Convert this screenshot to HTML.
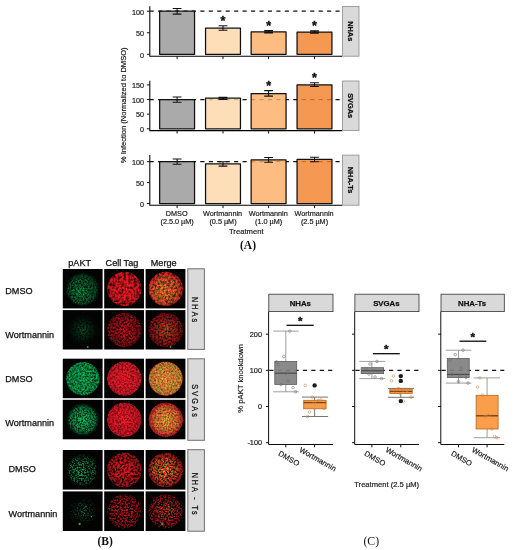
<!DOCTYPE html>
<html><head><meta charset="utf-8"><title>Figure</title>
<style>html,body{margin:0;padding:0;background:#fff;}svg{display:block;}text{font-family:"Liberation Sans", Arial, sans-serif;fill:#111;stroke:#111;stroke-width:0.18px;}.tk{font-size:7.2px;fill:#1c1c1c;}.ax{stroke:#000;stroke-width:1.05;fill:none;}.ser{font-family:"Liberation Serif", "Times New Roman", serif;font-weight:bold;font-size:11.5px;fill:#111;stroke:none;}.st{font-weight:bold;font-size:7px;fill:#111;stroke:#111;stroke-width:0.25px;}.rl{font-size:9.1px;fill:#111;stroke-width:0.25px;}</style></head><body>
<svg width="514" height="550" viewBox="0 0 514 550">
<rect x="0" y="0" width="514" height="550" fill="#ffffff"/>
<defs>
<filter id="f1" x="-5%" y="-5%" width="110%" height="110%" color-interpolation-filters="sRGB"><feTurbulence type="fractalNoise" baseFrequency="0.6" numOctaves="2" seed="1" result="n"/><feColorMatrix in="n" type="matrix" values="2.0 0 0 0 -0.4432  2.0 0 0 0 -0.4432  2.0 0 0 0 -0.4432  0 0 0 0 1" result="g"/><feComposite in="SourceGraphic" in2="g" operator="arithmetic" k1="1" k2="0" k3="0" k4="0" result="m"/><feGaussianBlur in="m" stdDeviation="0.45" result="mb"/><feComposite in="mb" in2="SourceGraphic" operator="in"/></filter>
<filter id="f2" x="-5%" y="-5%" width="110%" height="110%" color-interpolation-filters="sRGB"><feTurbulence type="fractalNoise" baseFrequency="0.38" numOctaves="2" seed="4" result="n"/><feColorMatrix in="n" type="matrix" values="2.2 0 0 0 -0.3694  2.2 0 0 0 -0.3694  2.2 0 0 0 -0.3694  0 0 0 0 1" result="g"/><feComposite in="SourceGraphic" in2="g" operator="arithmetic" k1="1" k2="0" k3="0" k4="0" result="m"/><feGaussianBlur in="m" stdDeviation="0.45" result="mb"/><feComposite in="mb" in2="SourceGraphic" operator="in"/></filter>
<filter id="f3" x="-5%" y="-5%" width="110%" height="110%" color-interpolation-filters="sRGB"><feTurbulence type="fractalNoise" baseFrequency="0.38" numOctaves="2" seed="4" result="n"/><feColorMatrix in="n" type="matrix" values="2.2 0 0 0 -0.3694  2.2 0 0 0 -0.3694  2.2 0 0 0 -0.3694  0 0 0 0 1" result="g"/><feComposite in="SourceGraphic" in2="g" operator="arithmetic" k1="1" k2="0" k3="0" k4="0" result="m"/><feGaussianBlur in="m" stdDeviation="0.45" result="mb"/><feComposite in="mb" in2="SourceGraphic" operator="in"/></filter>
<filter id="f4" x="-5%" y="-5%" width="110%" height="110%" color-interpolation-filters="sRGB"><feTurbulence type="fractalNoise" baseFrequency="0.6" numOctaves="2" seed="1" result="n"/><feColorMatrix in="n" type="matrix" values="2.0 0 0 0 -0.4432  2.0 0 0 0 -0.4432  2.0 0 0 0 -0.4432  0 0 0 0 1" result="g"/><feComposite in="SourceGraphic" in2="g" operator="arithmetic" k1="1" k2="0" k3="0" k4="0" result="m"/><feGaussianBlur in="m" stdDeviation="0.45" result="mb"/><feComposite in="mb" in2="SourceGraphic" operator="in"/></filter>
<filter id="f5" x="-5%" y="-5%" width="110%" height="110%" color-interpolation-filters="sRGB"><feTurbulence type="fractalNoise" baseFrequency="0.6" numOctaves="2" seed="8" result="n"/><feColorMatrix in="n" type="matrix" values="2.2 0 0 0 -0.487  2.2 0 0 0 -0.487  2.2 0 0 0 -0.487  0 0 0 0 1" result="g"/><feComposite in="SourceGraphic" in2="g" operator="arithmetic" k1="1" k2="0" k3="0" k4="0" result="m"/><feGaussianBlur in="m" stdDeviation="0.45" result="mb"/><feComposite in="mb" in2="SourceGraphic" operator="in"/></filter>
<filter id="f6" x="-5%" y="-5%" width="110%" height="110%" color-interpolation-filters="sRGB"><feTurbulence type="fractalNoise" baseFrequency="0.55" numOctaves="2" seed="11" result="n"/><feColorMatrix in="n" type="matrix" values="2.2 0 0 0 -0.4751  2.2 0 0 0 -0.4751  2.2 0 0 0 -0.4751  0 0 0 0 1" result="g"/><feComposite in="SourceGraphic" in2="g" operator="arithmetic" k1="1" k2="0" k3="0" k4="0" result="m"/><feGaussianBlur in="m" stdDeviation="0.45" result="mb"/><feComposite in="mb" in2="SourceGraphic" operator="in"/></filter>
<filter id="f7" x="-5%" y="-5%" width="110%" height="110%" color-interpolation-filters="sRGB"><feTurbulence type="fractalNoise" baseFrequency="0.55" numOctaves="2" seed="11" result="n"/><feColorMatrix in="n" type="matrix" values="2.2 0 0 0 -0.4751  2.2 0 0 0 -0.4751  2.2 0 0 0 -0.4751  0 0 0 0 1" result="g"/><feComposite in="SourceGraphic" in2="g" operator="arithmetic" k1="1" k2="0" k3="0" k4="0" result="m"/><feGaussianBlur in="m" stdDeviation="0.45" result="mb"/><feComposite in="mb" in2="SourceGraphic" operator="in"/></filter>
<filter id="f8" x="-5%" y="-5%" width="110%" height="110%" color-interpolation-filters="sRGB"><feTurbulence type="fractalNoise" baseFrequency="0.6" numOctaves="2" seed="8" result="n"/><feColorMatrix in="n" type="matrix" values="2.2 0 0 0 -0.487  2.2 0 0 0 -0.487  2.2 0 0 0 -0.487  0 0 0 0 1" result="g"/><feComposite in="SourceGraphic" in2="g" operator="arithmetic" k1="1" k2="0" k3="0" k4="0" result="m"/><feGaussianBlur in="m" stdDeviation="0.45" result="mb"/><feComposite in="mb" in2="SourceGraphic" operator="in"/></filter>
<filter id="f9" x="-5%" y="-5%" width="110%" height="110%" color-interpolation-filters="sRGB"><feTurbulence type="fractalNoise" baseFrequency="0.55" numOctaves="2" seed="21" result="n"/><feColorMatrix in="n" type="matrix" values="1.5 0 0 0 -0.1421  1.5 0 0 0 -0.1421  1.5 0 0 0 -0.1421  0 0 0 0 1" result="g"/><feComposite in="SourceGraphic" in2="g" operator="arithmetic" k1="1" k2="0" k3="0" k4="0" result="m"/><feGaussianBlur in="m" stdDeviation="0.45" result="mb"/><feComposite in="mb" in2="SourceGraphic" operator="in"/></filter>
<filter id="f10" x="-5%" y="-5%" width="110%" height="110%" color-interpolation-filters="sRGB"><feTurbulence type="fractalNoise" baseFrequency="0.55" numOctaves="2" seed="24" result="n"/><feColorMatrix in="n" type="matrix" values="1.3 0 0 0 0.1581  1.3 0 0 0 0.1581  1.3 0 0 0 0.1581  0 0 0 0 1" result="g"/><feComposite in="SourceGraphic" in2="g" operator="arithmetic" k1="1" k2="0" k3="0" k4="0" result="m"/><feGaussianBlur in="m" stdDeviation="0.45" result="mb"/><feComposite in="mb" in2="SourceGraphic" operator="in"/></filter>
<filter id="f11" x="-5%" y="-5%" width="110%" height="110%" color-interpolation-filters="sRGB"><feTurbulence type="fractalNoise" baseFrequency="0.55" numOctaves="2" seed="24" result="n"/><feColorMatrix in="n" type="matrix" values="1.3 0 0 0 0.1581  1.3 0 0 0 0.1581  1.3 0 0 0 0.1581  0 0 0 0 1" result="g"/><feComposite in="SourceGraphic" in2="g" operator="arithmetic" k1="1" k2="0" k3="0" k4="0" result="m"/><feGaussianBlur in="m" stdDeviation="0.45" result="mb"/><feComposite in="mb" in2="SourceGraphic" operator="in"/></filter>
<filter id="f12" x="-5%" y="-5%" width="110%" height="110%" color-interpolation-filters="sRGB"><feTurbulence type="fractalNoise" baseFrequency="0.55" numOctaves="2" seed="21" result="n"/><feColorMatrix in="n" type="matrix" values="1.5 0 0 0 -0.1421  1.5 0 0 0 -0.1421  1.5 0 0 0 -0.1421  0 0 0 0 1" result="g"/><feComposite in="SourceGraphic" in2="g" operator="arithmetic" k1="1" k2="0" k3="0" k4="0" result="m"/><feGaussianBlur in="m" stdDeviation="0.45" result="mb"/><feComposite in="mb" in2="SourceGraphic" operator="in"/></filter>
<filter id="f13" x="-5%" y="-5%" width="110%" height="110%" color-interpolation-filters="sRGB"><feTurbulence type="fractalNoise" baseFrequency="0.6" numOctaves="2" seed="28" result="n"/><feColorMatrix in="n" type="matrix" values="2.0 0 0 0 -0.3534  2.0 0 0 0 -0.3534  2.0 0 0 0 -0.3534  0 0 0 0 1" result="g"/><feComposite in="SourceGraphic" in2="g" operator="arithmetic" k1="1" k2="0" k3="0" k4="0" result="m"/><feGaussianBlur in="m" stdDeviation="0.45" result="mb"/><feComposite in="mb" in2="SourceGraphic" operator="in"/></filter>
<filter id="f14" x="-5%" y="-5%" width="110%" height="110%" color-interpolation-filters="sRGB"><feTurbulence type="fractalNoise" baseFrequency="0.55" numOctaves="2" seed="31" result="n"/><feColorMatrix in="n" type="matrix" values="1.3 0 0 0 0.1404  1.3 0 0 0 0.1404  1.3 0 0 0 0.1404  0 0 0 0 1" result="g"/><feComposite in="SourceGraphic" in2="g" operator="arithmetic" k1="1" k2="0" k3="0" k4="0" result="m"/><feGaussianBlur in="m" stdDeviation="0.45" result="mb"/><feComposite in="mb" in2="SourceGraphic" operator="in"/></filter>
<filter id="f15" x="-5%" y="-5%" width="110%" height="110%" color-interpolation-filters="sRGB"><feTurbulence type="fractalNoise" baseFrequency="0.55" numOctaves="2" seed="31" result="n"/><feColorMatrix in="n" type="matrix" values="1.3 0 0 0 0.1404  1.3 0 0 0 0.1404  1.3 0 0 0 0.1404  0 0 0 0 1" result="g"/><feComposite in="SourceGraphic" in2="g" operator="arithmetic" k1="1" k2="0" k3="0" k4="0" result="m"/><feGaussianBlur in="m" stdDeviation="0.45" result="mb"/><feComposite in="mb" in2="SourceGraphic" operator="in"/></filter>
<filter id="f16" x="-5%" y="-5%" width="110%" height="110%" color-interpolation-filters="sRGB"><feTurbulence type="fractalNoise" baseFrequency="0.6" numOctaves="2" seed="28" result="n"/><feColorMatrix in="n" type="matrix" values="2.0 0 0 0 -0.3534  2.0 0 0 0 -0.3534  2.0 0 0 0 -0.3534  0 0 0 0 1" result="g"/><feComposite in="SourceGraphic" in2="g" operator="arithmetic" k1="1" k2="0" k3="0" k4="0" result="m"/><feGaussianBlur in="m" stdDeviation="0.45" result="mb"/><feComposite in="mb" in2="SourceGraphic" operator="in"/></filter>
<filter id="f17" x="-5%" y="-5%" width="110%" height="110%" color-interpolation-filters="sRGB"><feTurbulence type="fractalNoise" baseFrequency="0.65" numOctaves="2" seed="41" result="n"/><feColorMatrix in="n" type="matrix" values="3.8 0 0 0 -1.5639  3.8 0 0 0 -1.5639  3.8 0 0 0 -1.5639  0 0 0 0 1" result="g"/><feComposite in="SourceGraphic" in2="g" operator="arithmetic" k1="1" k2="0" k3="0" k4="0" result="m"/><feGaussianBlur in="m" stdDeviation="0.45" result="mb"/><feComposite in="mb" in2="SourceGraphic" operator="in"/></filter>
<filter id="f18" x="-5%" y="-5%" width="110%" height="110%" color-interpolation-filters="sRGB"><feTurbulence type="fractalNoise" baseFrequency="0.45" numOctaves="2" seed="44" result="n"/><feColorMatrix in="n" type="matrix" values="3.0 0 0 0 -0.8202  3.0 0 0 0 -0.8202  3.0 0 0 0 -0.8202  0 0 0 0 1" result="g"/><feComposite in="SourceGraphic" in2="g" operator="arithmetic" k1="1" k2="0" k3="0" k4="0" result="m"/><feGaussianBlur in="m" stdDeviation="0.45" result="mb"/><feComposite in="mb" in2="SourceGraphic" operator="in"/></filter>
<filter id="f19" x="-5%" y="-5%" width="110%" height="110%" color-interpolation-filters="sRGB"><feTurbulence type="fractalNoise" baseFrequency="0.45" numOctaves="2" seed="44" result="n"/><feColorMatrix in="n" type="matrix" values="3.0 0 0 0 -0.8202  3.0 0 0 0 -0.8202  3.0 0 0 0 -0.8202  0 0 0 0 1" result="g"/><feComposite in="SourceGraphic" in2="g" operator="arithmetic" k1="1" k2="0" k3="0" k4="0" result="m"/><feGaussianBlur in="m" stdDeviation="0.45" result="mb"/><feComposite in="mb" in2="SourceGraphic" operator="in"/></filter>
<filter id="f20" x="-5%" y="-5%" width="110%" height="110%" color-interpolation-filters="sRGB"><feTurbulence type="fractalNoise" baseFrequency="0.65" numOctaves="2" seed="41" result="n"/><feColorMatrix in="n" type="matrix" values="3.8 0 0 0 -1.5639  3.8 0 0 0 -1.5639  3.8 0 0 0 -1.5639  0 0 0 0 1" result="g"/><feComposite in="SourceGraphic" in2="g" operator="arithmetic" k1="1" k2="0" k3="0" k4="0" result="m"/><feGaussianBlur in="m" stdDeviation="0.45" result="mb"/><feComposite in="mb" in2="SourceGraphic" operator="in"/></filter>
<filter id="f21" x="-5%" y="-5%" width="110%" height="110%" color-interpolation-filters="sRGB"><feTurbulence type="fractalNoise" baseFrequency="0.65" numOctaves="2" seed="48" result="n"/><feColorMatrix in="n" type="matrix" values="3.5 0 0 0 -1.5748  3.5 0 0 0 -1.5748  3.5 0 0 0 -1.5748  0 0 0 0 1" result="g"/><feComposite in="SourceGraphic" in2="g" operator="arithmetic" k1="1" k2="0" k3="0" k4="0" result="m"/><feGaussianBlur in="m" stdDeviation="0.45" result="mb"/><feComposite in="mb" in2="SourceGraphic" operator="in"/></filter>
<filter id="f22" x="-5%" y="-5%" width="110%" height="110%" color-interpolation-filters="sRGB"><feTurbulence type="fractalNoise" baseFrequency="0.6" numOctaves="2" seed="51" result="n"/><feColorMatrix in="n" type="matrix" values="3.5 0 0 0 -1.3737  3.5 0 0 0 -1.3737  3.5 0 0 0 -1.3737  0 0 0 0 1" result="g"/><feComposite in="SourceGraphic" in2="g" operator="arithmetic" k1="1" k2="0" k3="0" k4="0" result="m"/><feGaussianBlur in="m" stdDeviation="0.45" result="mb"/><feComposite in="mb" in2="SourceGraphic" operator="in"/></filter>
<filter id="f23" x="-5%" y="-5%" width="110%" height="110%" color-interpolation-filters="sRGB"><feTurbulence type="fractalNoise" baseFrequency="0.6" numOctaves="2" seed="51" result="n"/><feColorMatrix in="n" type="matrix" values="3.5 0 0 0 -1.3737  3.5 0 0 0 -1.3737  3.5 0 0 0 -1.3737  0 0 0 0 1" result="g"/><feComposite in="SourceGraphic" in2="g" operator="arithmetic" k1="1" k2="0" k3="0" k4="0" result="m"/><feGaussianBlur in="m" stdDeviation="0.45" result="mb"/><feComposite in="mb" in2="SourceGraphic" operator="in"/></filter>
<filter id="f24" x="-5%" y="-5%" width="110%" height="110%" color-interpolation-filters="sRGB"><feTurbulence type="fractalNoise" baseFrequency="0.65" numOctaves="2" seed="48" result="n"/><feColorMatrix in="n" type="matrix" values="3.5 0 0 0 -1.5748  3.5 0 0 0 -1.5748  3.5 0 0 0 -1.5748  0 0 0 0 1" result="g"/><feComposite in="SourceGraphic" in2="g" operator="arithmetic" k1="1" k2="0" k3="0" k4="0" result="m"/><feGaussianBlur in="m" stdDeviation="0.45" result="mb"/><feComposite in="mb" in2="SourceGraphic" operator="in"/></filter>
<radialGradient id="g1" cx="0.5" cy="0.5" r="0.5" fx="0.4" fy="0.62"><stop offset="0" stop-color="rgb(14,170,82)"/><stop offset="0.78" stop-color="rgb(14,170,82)" stop-opacity="0.7"/><stop offset="1" stop-color="rgb(14,170,82)" stop-opacity="0"/></radialGradient>
<radialGradient id="g2" cx="0.5" cy="0.5" r="0.5" fx="0.5" fy="0.5"><stop offset="0" stop-color="rgb(255,26,38)"/><stop offset="0.93" stop-color="rgb(255,26,38)" stop-opacity="0.9"/><stop offset="1" stop-color="rgb(255,26,38)" stop-opacity="0"/></radialGradient>
<radialGradient id="g3" cx="0.5" cy="0.5" r="0.5" fx="0.5" fy="0.5"><stop offset="0" stop-color="rgb(255,26,38)"/><stop offset="0.93" stop-color="rgb(255,26,38)" stop-opacity="0.9"/><stop offset="1" stop-color="rgb(255,26,38)" stop-opacity="0"/></radialGradient>
<radialGradient id="g4" cx="0.5" cy="0.5" r="0.5" fx="0.4" fy="0.62"><stop offset="0" stop-color="rgb(14,170,20)"/><stop offset="0.78" stop-color="rgb(14,170,20)" stop-opacity="0.7"/><stop offset="1" stop-color="rgb(14,170,20)" stop-opacity="0"/></radialGradient>
<radialGradient id="g5" cx="0.5" cy="0.5" r="0.5" fx="0.5" fy="0.5"><stop offset="0" stop-color="rgb(8,90,45)"/><stop offset="0.60" stop-color="rgb(8,90,45)" stop-opacity="0.5"/><stop offset="1" stop-color="rgb(8,90,45)" stop-opacity="0"/></radialGradient>
<radialGradient id="g6" cx="0.5" cy="0.5" r="0.5" fx="0.5" fy="0.5"><stop offset="0" stop-color="rgb(212,18,30)"/><stop offset="0.92" stop-color="rgb(212,18,30)" stop-opacity="0.8"/><stop offset="1" stop-color="rgb(212,18,30)" stop-opacity="0"/></radialGradient>
<radialGradient id="g7" cx="0.5" cy="0.5" r="0.5" fx="0.5" fy="0.5"><stop offset="0" stop-color="rgb(212,18,30)"/><stop offset="0.92" stop-color="rgb(212,18,30)" stop-opacity="0.8"/><stop offset="1" stop-color="rgb(212,18,30)" stop-opacity="0"/></radialGradient>
<radialGradient id="g8" cx="0.5" cy="0.5" r="0.5" fx="0.5" fy="0.5"><stop offset="0" stop-color="rgb(8,90,11)"/><stop offset="0.60" stop-color="rgb(8,90,11)" stop-opacity="0.5"/><stop offset="1" stop-color="rgb(8,90,11)" stop-opacity="0"/></radialGradient>
<radialGradient id="g9" cx="0.5" cy="0.5" r="0.5" fx="0.5" fy="0.5"><stop offset="0" stop-color="rgb(14,215,104)"/><stop offset="0.92" stop-color="rgb(14,215,104)" stop-opacity="0.9"/><stop offset="1" stop-color="rgb(14,215,104)" stop-opacity="0"/></radialGradient>
<radialGradient id="g10" cx="0.5" cy="0.5" r="0.5" fx="0.5" fy="0.5"><stop offset="0" stop-color="rgb(255,28,46)"/><stop offset="0.94" stop-color="rgb(255,28,46)" stop-opacity="0.9"/><stop offset="1" stop-color="rgb(255,28,46)" stop-opacity="0"/></radialGradient>
<radialGradient id="g11" cx="0.5" cy="0.5" r="0.5" fx="0.5" fy="0.5"><stop offset="0" stop-color="rgb(255,28,46)"/><stop offset="0.94" stop-color="rgb(255,28,46)" stop-opacity="0.9"/><stop offset="1" stop-color="rgb(255,28,46)" stop-opacity="0"/></radialGradient>
<radialGradient id="g12" cx="0.5" cy="0.5" r="0.5" fx="0.5" fy="0.5"><stop offset="0" stop-color="rgb(14,215,26)"/><stop offset="0.92" stop-color="rgb(14,215,26)" stop-opacity="0.9"/><stop offset="1" stop-color="rgb(14,215,26)" stop-opacity="0"/></radialGradient>
<radialGradient id="g13" cx="0.5" cy="0.5" r="0.5" fx="0.5" fy="0.5"><stop offset="0" stop-color="rgb(16,215,106)"/><stop offset="0.72" stop-color="rgb(16,215,106)" stop-opacity="0.75"/><stop offset="1" stop-color="rgb(16,215,106)" stop-opacity="0"/></radialGradient>
<radialGradient id="g14" cx="0.5" cy="0.5" r="0.5" fx="0.5" fy="0.5"><stop offset="0" stop-color="rgb(255,26,44)"/><stop offset="0.94" stop-color="rgb(255,26,44)" stop-opacity="0.9"/><stop offset="1" stop-color="rgb(255,26,44)" stop-opacity="0"/></radialGradient>
<radialGradient id="g15" cx="0.5" cy="0.5" r="0.5" fx="0.5" fy="0.5"><stop offset="0" stop-color="rgb(255,26,44)"/><stop offset="0.94" stop-color="rgb(255,26,44)" stop-opacity="0.9"/><stop offset="1" stop-color="rgb(255,26,44)" stop-opacity="0"/></radialGradient>
<radialGradient id="g16" cx="0.5" cy="0.5" r="0.5" fx="0.5" fy="0.5"><stop offset="0" stop-color="rgb(16,215,26)"/><stop offset="0.72" stop-color="rgb(16,215,26)" stop-opacity="0.75"/><stop offset="1" stop-color="rgb(16,215,26)" stop-opacity="0"/></radialGradient>
<radialGradient id="g17" cx="0.5" cy="0.5" r="0.5" fx="0.4" fy="0.55"><stop offset="0" stop-color="rgb(14,190,95)"/><stop offset="0.72" stop-color="rgb(14,190,95)" stop-opacity="0.7"/><stop offset="1" stop-color="rgb(14,190,95)" stop-opacity="0"/></radialGradient>
<radialGradient id="g18" cx="0.5" cy="0.5" r="0.5" fx="0.5" fy="0.5"><stop offset="0" stop-color="rgb(245,24,32)"/><stop offset="0.94" stop-color="rgb(245,24,32)" stop-opacity="0.8"/><stop offset="1" stop-color="rgb(245,24,32)" stop-opacity="0"/></radialGradient>
<radialGradient id="g19" cx="0.5" cy="0.5" r="0.5" fx="0.5" fy="0.5"><stop offset="0" stop-color="rgb(245,24,32)"/><stop offset="0.94" stop-color="rgb(245,24,32)" stop-opacity="0.8"/><stop offset="1" stop-color="rgb(245,24,32)" stop-opacity="0"/></radialGradient>
<radialGradient id="g20" cx="0.5" cy="0.5" r="0.5" fx="0.4" fy="0.55"><stop offset="0" stop-color="rgb(14,190,23)"/><stop offset="0.72" stop-color="rgb(14,190,23)" stop-opacity="0.7"/><stop offset="1" stop-color="rgb(14,190,23)" stop-opacity="0"/></radialGradient>
<radialGradient id="g21" cx="0.5" cy="0.5" r="0.5" fx="0.5" fy="0.5"><stop offset="0" stop-color="rgb(10,140,70)"/><stop offset="0.60" stop-color="rgb(10,140,70)" stop-opacity="0.5"/><stop offset="1" stop-color="rgb(10,140,70)" stop-opacity="0"/></radialGradient>
<radialGradient id="g22" cx="0.5" cy="0.5" r="0.5" fx="0.5" fy="0.5"><stop offset="0" stop-color="rgb(230,18,30)"/><stop offset="0.92" stop-color="rgb(230,18,30)" stop-opacity="0.8"/><stop offset="1" stop-color="rgb(230,18,30)" stop-opacity="0"/></radialGradient>
<radialGradient id="g23" cx="0.5" cy="0.5" r="0.5" fx="0.5" fy="0.5"><stop offset="0" stop-color="rgb(230,18,30)"/><stop offset="0.92" stop-color="rgb(230,18,30)" stop-opacity="0.8"/><stop offset="1" stop-color="rgb(230,18,30)" stop-opacity="0"/></radialGradient>
<radialGradient id="g24" cx="0.5" cy="0.5" r="0.5" fx="0.5" fy="0.5"><stop offset="0" stop-color="rgb(10,140,17)"/><stop offset="0.60" stop-color="rgb(10,140,17)" stop-opacity="0.5"/><stop offset="1" stop-color="rgb(10,140,17)" stop-opacity="0"/></radialGradient>
</defs>
<line x1="149.60" y1="11.20" x2="340.30" y2="11.20" stroke="#111" stroke-width="1.2" stroke-dasharray="4.15 4.3"/>
<rect x="159.65" y="11.20" width="34.90" height="43.10" fill="#fff" fill-opacity="0" stroke="none"/>
<rect x="159.65" y="11.20" width="34.90" height="43.10" fill="rgb(151,151,151)" fill-opacity="0.82" stroke="#111" stroke-width="1.25" stroke-linejoin="round"/>
<path d="M172.70 8.50H181.50M172.70 14.10H181.50M177.10 8.50V14.10" stroke="#111" stroke-width="1.05" fill="none"/>
<rect x="205.55" y="28.10" width="34.90" height="26.20" fill="#fff" fill-opacity="0" stroke="none"/>
<rect x="205.55" y="28.10" width="34.90" height="26.20" fill="rgb(254,215,168)" fill-opacity="0.82" stroke="#111" stroke-width="1.25" stroke-linejoin="round"/>
<path d="M218.60 25.80H227.40M218.60 30.30H227.40M223.00 25.80V30.30" stroke="#111" stroke-width="1.05" fill="none"/>
<text x="223.00" y="24.90" text-anchor="middle" style="font-size:12.5px;font-weight:bold;fill:#111;stroke:#111;stroke-width:0.4px;stroke-linejoin:round">*</text>
<rect x="251.15" y="31.89" width="34.90" height="22.41" fill="#fff" fill-opacity="0" stroke="none"/>
<rect x="251.15" y="31.89" width="34.90" height="22.41" fill="rgb(253,173,103)" fill-opacity="0.82" stroke="#111" stroke-width="1.25" stroke-linejoin="round"/>
<path d="M264.20 30.75H273.00M264.20 32.75H273.00M268.60 30.75V32.75" stroke="#111" stroke-width="1.35" fill="none"/>
<text x="268.60" y="30.20" text-anchor="middle" style="font-size:12.5px;font-weight:bold;fill:#111;stroke:#111;stroke-width:0.4px;stroke-linejoin:round">*</text>
<rect x="297.05" y="32.10" width="34.90" height="22.20" fill="#fff" fill-opacity="0" stroke="none"/>
<rect x="297.05" y="32.10" width="34.90" height="22.20" fill="rgb(242,129,44)" fill-opacity="0.82" stroke="#111" stroke-width="1.25" stroke-linejoin="round"/>
<path d="M310.10 30.95H318.90M310.10 32.95H318.90M314.50 30.95V32.95" stroke="#111" stroke-width="1.35" fill="none"/>
<text x="314.50" y="30.20" text-anchor="middle" style="font-size:12.5px;font-weight:bold;fill:#111;stroke:#111;stroke-width:0.4px;stroke-linejoin:round">*</text>
<path class="ax" d="M149.80 6.20V56.20H342.30"/>
<line x1="146.90" y1="54.30" x2="149.80" y2="54.30" stroke="#111" stroke-width="1"/>
<text class="tk" x="143.90" y="57.60" text-anchor="end">0</text>
<line x1="146.90" y1="32.75" x2="149.80" y2="32.75" stroke="#111" stroke-width="1"/>
<text class="tk" x="143.90" y="36.05" text-anchor="end">50</text>
<line x1="146.90" y1="11.20" x2="149.80" y2="11.20" stroke="#111" stroke-width="1"/>
<text class="tk" x="143.90" y="14.50" text-anchor="end">100</text>
<line x1="177.10" y1="56.20" x2="177.10" y2="59.10" stroke="#111" stroke-width="1"/>
<line x1="223.00" y1="56.20" x2="223.00" y2="59.10" stroke="#111" stroke-width="1"/>
<line x1="268.60" y1="56.20" x2="268.60" y2="59.10" stroke="#111" stroke-width="1"/>
<line x1="314.50" y1="56.20" x2="314.50" y2="59.10" stroke="#111" stroke-width="1"/>
<rect x="342.60" y="6.40" width="16.40" height="49.80" fill="#d9d9d9" stroke="#8c8c8c" stroke-width="0.8"/>
<text class="st" transform="translate(347.90 31.20) rotate(90)" text-anchor="middle" style="font-size:7.4px">NHAs</text>
<line x1="149.60" y1="99.55" x2="340.30" y2="99.55" stroke="#111" stroke-width="1.2" stroke-dasharray="4.15 4.3"/>
<rect x="159.65" y="99.55" width="34.90" height="29.25" fill="#fff" fill-opacity="0" stroke="none"/>
<rect x="159.65" y="99.55" width="34.90" height="29.25" fill="rgb(151,151,151)" fill-opacity="0.82" stroke="#111" stroke-width="1.25" stroke-linejoin="round"/>
<path d="M172.70 96.90H181.50M172.70 102.20H181.50M177.10 96.90V102.20" stroke="#111" stroke-width="1.05" fill="none"/>
<rect x="205.55" y="98.09" width="34.90" height="30.71" fill="#fff" fill-opacity="0" stroke="none"/>
<rect x="205.55" y="98.09" width="34.90" height="30.71" fill="rgb(254,215,168)" fill-opacity="0.82" stroke="#111" stroke-width="1.25" stroke-linejoin="round"/>
<path d="M218.60 97.45H227.40M218.60 99.35H227.40M223.00 97.45V99.35" stroke="#111" stroke-width="1.35" fill="none"/>
<rect x="251.15" y="93.55" width="34.90" height="35.25" fill="#fff" fill-opacity="0" stroke="none"/>
<rect x="251.15" y="93.55" width="34.90" height="35.25" fill="rgb(253,173,103)" fill-opacity="0.82" stroke="#111" stroke-width="1.25" stroke-linejoin="round"/>
<path d="M264.20 90.60H273.00M264.20 96.10H273.00M268.60 90.60V96.10" stroke="#111" stroke-width="1.05" fill="none"/>
<text x="268.60" y="90.40" text-anchor="middle" style="font-size:12.5px;font-weight:bold;fill:#111;stroke:#111;stroke-width:0.4px;stroke-linejoin:round">*</text>
<rect x="297.05" y="84.93" width="34.90" height="43.88" fill="#fff" fill-opacity="0" stroke="none"/>
<rect x="297.05" y="84.93" width="34.90" height="43.88" fill="rgb(242,129,44)" fill-opacity="0.82" stroke="#111" stroke-width="1.25" stroke-linejoin="round"/>
<path d="M310.10 82.70H318.90M310.10 86.40H318.90M314.50 82.70V86.40" stroke="#111" stroke-width="1.05" fill="none"/>
<text x="314.50" y="82.00" text-anchor="middle" style="font-size:12.5px;font-weight:bold;fill:#111;stroke:#111;stroke-width:0.4px;stroke-linejoin:round">*</text>
<path class="ax" d="M149.80 80.80V130.60H342.30"/>
<line x1="146.90" y1="128.80" x2="149.80" y2="128.80" stroke="#111" stroke-width="1"/>
<text class="tk" x="143.90" y="132.10" text-anchor="end">0</text>
<line x1="146.90" y1="114.18" x2="149.80" y2="114.18" stroke="#111" stroke-width="1"/>
<text class="tk" x="143.90" y="117.48" text-anchor="end">50</text>
<line x1="146.90" y1="99.55" x2="149.80" y2="99.55" stroke="#111" stroke-width="1"/>
<text class="tk" x="143.90" y="102.85" text-anchor="end">100</text>
<line x1="146.90" y1="84.93" x2="149.80" y2="84.93" stroke="#111" stroke-width="1"/>
<text class="tk" x="143.90" y="88.23" text-anchor="end">150</text>
<line x1="177.10" y1="130.60" x2="177.10" y2="133.50" stroke="#111" stroke-width="1"/>
<line x1="223.00" y1="130.60" x2="223.00" y2="133.50" stroke="#111" stroke-width="1"/>
<line x1="268.60" y1="130.60" x2="268.60" y2="133.50" stroke="#111" stroke-width="1"/>
<line x1="314.50" y1="130.60" x2="314.50" y2="133.50" stroke="#111" stroke-width="1"/>
<rect x="342.60" y="81.00" width="16.40" height="49.60" fill="#d9d9d9" stroke="#8c8c8c" stroke-width="0.8"/>
<text class="st" transform="translate(347.90 105.70) rotate(90)" text-anchor="middle" style="font-size:7.4px">SVGAs</text>
<line x1="149.60" y1="161.70" x2="340.30" y2="161.70" stroke="#111" stroke-width="1.2" stroke-dasharray="4.15 4.3"/>
<rect x="159.65" y="161.70" width="34.90" height="41.80" fill="#fff" fill-opacity="0" stroke="none"/>
<rect x="159.65" y="161.70" width="34.90" height="41.80" fill="rgb(151,151,151)" fill-opacity="0.82" stroke="#111" stroke-width="1.25" stroke-linejoin="round"/>
<path d="M172.70 158.90H181.50M172.70 164.20H181.50M177.10 158.90V164.20" stroke="#111" stroke-width="1.05" fill="none"/>
<rect x="205.55" y="163.79" width="34.90" height="39.71" fill="#fff" fill-opacity="0" stroke="none"/>
<rect x="205.55" y="163.79" width="34.90" height="39.71" fill="rgb(254,215,168)" fill-opacity="0.82" stroke="#111" stroke-width="1.25" stroke-linejoin="round"/>
<path d="M218.60 161.70H227.40M218.60 166.10H227.40M223.00 161.70V166.10" stroke="#111" stroke-width="1.05" fill="none"/>
<rect x="251.15" y="159.90" width="34.90" height="43.60" fill="#fff" fill-opacity="0" stroke="none"/>
<rect x="251.15" y="159.90" width="34.90" height="43.60" fill="rgb(253,173,103)" fill-opacity="0.82" stroke="#111" stroke-width="1.25" stroke-linejoin="round"/>
<path d="M264.20 157.40H273.00M264.20 162.20H273.00M268.60 157.40V162.20" stroke="#111" stroke-width="1.05" fill="none"/>
<rect x="297.05" y="159.40" width="34.90" height="44.10" fill="#fff" fill-opacity="0" stroke="none"/>
<rect x="297.05" y="159.40" width="34.90" height="44.10" fill="rgb(242,129,44)" fill-opacity="0.82" stroke="#111" stroke-width="1.25" stroke-linejoin="round"/>
<path d="M310.10 157.20H318.90M310.10 161.70H318.90M314.50 157.20V161.70" stroke="#111" stroke-width="1.05" fill="none"/>
<path class="ax" d="M149.80 154.90V205.20H342.30"/>
<line x1="146.90" y1="203.50" x2="149.80" y2="203.50" stroke="#111" stroke-width="1"/>
<text class="tk" x="143.90" y="206.80" text-anchor="end">0</text>
<line x1="146.90" y1="182.60" x2="149.80" y2="182.60" stroke="#111" stroke-width="1"/>
<text class="tk" x="143.90" y="185.90" text-anchor="end">50</text>
<line x1="146.90" y1="161.70" x2="149.80" y2="161.70" stroke="#111" stroke-width="1"/>
<text class="tk" x="143.90" y="165.00" text-anchor="end">100</text>
<line x1="177.10" y1="205.20" x2="177.10" y2="208.10" stroke="#111" stroke-width="1"/>
<line x1="223.00" y1="205.20" x2="223.00" y2="208.10" stroke="#111" stroke-width="1"/>
<line x1="268.60" y1="205.20" x2="268.60" y2="208.10" stroke="#111" stroke-width="1"/>
<line x1="314.50" y1="205.20" x2="314.50" y2="208.10" stroke="#111" stroke-width="1"/>
<rect x="342.60" y="155.10" width="16.40" height="50.10" fill="#d9d9d9" stroke="#8c8c8c" stroke-width="0.8"/>
<text class="st" transform="translate(347.90 180.05) rotate(90)" text-anchor="middle" style="font-size:7.4px">NHA-Ts</text>
<text class="tk" x="176.70" y="216.2" text-anchor="middle" style="font-size:7.25px">DMSO</text>
<text class="tk" x="177.10" y="224.3" text-anchor="middle" style="font-size:7.25px">(2.5.0 µM)</text>
<text class="tk" x="222.60" y="216.2" text-anchor="middle" style="font-size:7.25px">Wortmannin</text>
<text class="tk" x="223.00" y="224.3" text-anchor="middle" style="font-size:7.25px">(0.5 µM)</text>
<text class="tk" x="268.20" y="216.2" text-anchor="middle" style="font-size:7.25px">Wortmannin</text>
<text class="tk" x="268.60" y="224.3" text-anchor="middle" style="font-size:7.25px">(1.0 µM)</text>
<text class="tk" x="314.10" y="216.2" text-anchor="middle" style="font-size:7.25px">Wortmannin</text>
<text class="tk" x="314.50" y="224.3" text-anchor="middle" style="font-size:7.25px">(2.5 µM)</text>
<text x="246.3" y="233.9" text-anchor="middle" style="font-size:7.7px;fill:#222">Treatment</text>
<text transform="translate(126.4 105.3) rotate(-90)" text-anchor="middle" style="font-size:7.55px;fill:#222">% Infection (Normalized to DMSO)</text>
<text class="ser" x="248" y="249.2" text-anchor="middle">(A)</text>
<rect x="62.80" y="269.00" width="39.80" height="39.40" fill="#030303"/>
<circle cx="82.90" cy="288.90" r="18.30" fill="url(#g1)" filter="url(#f1)"/>
<rect x="104.20" y="269.00" width="39.80" height="39.40" fill="#030303"/>
<circle cx="124.30" cy="288.90" r="18.00" fill="url(#g2)" filter="url(#f2)"/>
<rect x="145.60" y="269.00" width="39.80" height="39.40" fill="#030303"/>
<circle cx="165.70" cy="288.90" r="18.00" fill="url(#g3)" filter="url(#f3)"/>
<circle cx="165.70" cy="288.90" r="18.30" fill="url(#g4)" filter="url(#f4)" style="mix-blend-mode:screen" opacity="0.9"/>
<rect x="62.80" y="310.10" width="39.80" height="39.40" fill="#030303"/>
<circle cx="82.90" cy="330.00" r="18.00" fill="url(#g5)" filter="url(#f5)"/>
<circle cx="87.70" cy="346.90" r="0.90" fill="rgb(55,210,105)" opacity="0.8"/>
<rect x="104.20" y="310.10" width="39.80" height="39.40" fill="#030303"/>
<circle cx="124.30" cy="330.00" r="18.00" fill="url(#g6)" filter="url(#f6)"/>
<rect x="145.60" y="310.10" width="39.80" height="39.40" fill="#030303"/>
<circle cx="165.70" cy="330.00" r="18.00" fill="url(#g7)" filter="url(#f7)"/>
<circle cx="165.70" cy="330.00" r="18.00" fill="url(#g8)" filter="url(#f8)" style="mix-blend-mode:screen" opacity="0.9"/>
<circle cx="170.50" cy="346.90" r="0.90" fill="rgb(55,210,105)" opacity="0.8"/>
<rect x="187.8" y="268.80" width="16.6" height="80.60" fill="#dadada" stroke="#707070" stroke-width="1"/>
<text transform="translate(191.7 296.90) rotate(90) scale(0.82 1)" textLength="30.85" lengthAdjust="spacing" style="font-size:8.8px;fill:#111;stroke-width:0.28px">NHAs</text>
<text class="rl" x="5.30" y="294.30">DMSO</text>
<text class="rl" x="5.30" y="338.40">Wortmannin</text>
<rect x="62.80" y="358.70" width="39.80" height="39.50" fill="#030303"/>
<circle cx="82.90" cy="378.65" r="17.60" fill="url(#g9)" filter="url(#f9)"/>
<rect x="104.20" y="358.70" width="39.80" height="39.50" fill="#030303"/>
<circle cx="124.30" cy="378.65" r="17.80" fill="url(#g10)" filter="url(#f10)"/>
<rect x="145.60" y="358.70" width="39.80" height="39.50" fill="#030303"/>
<circle cx="165.70" cy="378.65" r="17.80" fill="url(#g11)" filter="url(#f11)"/>
<circle cx="165.70" cy="378.65" r="17.60" fill="url(#g12)" filter="url(#f12)" style="mix-blend-mode:screen" opacity="0.9"/>
<rect x="62.80" y="399.80" width="39.80" height="39.50" fill="#030303"/>
<circle cx="82.90" cy="419.75" r="18.00" fill="url(#g13)" filter="url(#f13)"/>
<rect x="104.20" y="399.80" width="39.80" height="39.50" fill="#030303"/>
<circle cx="124.30" cy="419.75" r="17.80" fill="url(#g14)" filter="url(#f14)"/>
<rect x="145.60" y="399.80" width="39.80" height="39.50" fill="#030303"/>
<circle cx="165.70" cy="419.75" r="17.80" fill="url(#g15)" filter="url(#f15)"/>
<circle cx="165.70" cy="419.75" r="18.00" fill="url(#g16)" filter="url(#f16)" style="mix-blend-mode:screen" opacity="0.9"/>
<rect x="187.8" y="358.80" width="16.6" height="81.50" fill="#dadada" stroke="#707070" stroke-width="1"/>
<text transform="translate(191.7 384.20) rotate(90) scale(0.82 1)" textLength="39.88" lengthAdjust="spacing" style="font-size:8.8px;fill:#111;stroke-width:0.28px">SVGAs</text>
<text class="rl" x="5.30" y="381.80">DMSO</text>
<text class="rl" x="5.30" y="426.20">Wortmannin</text>
<rect x="62.80" y="450.00" width="39.80" height="39.60" fill="#030303"/>
<circle cx="82.90" cy="470.00" r="18.00" fill="url(#g17)" filter="url(#f17)"/>
<rect x="104.20" y="450.00" width="39.80" height="39.60" fill="#030303"/>
<circle cx="124.30" cy="470.00" r="18.00" fill="url(#g18)" filter="url(#f18)"/>
<rect x="145.60" y="450.00" width="39.80" height="39.60" fill="#030303"/>
<circle cx="165.70" cy="470.00" r="18.00" fill="url(#g19)" filter="url(#f19)"/>
<circle cx="165.70" cy="470.00" r="18.00" fill="url(#g20)" filter="url(#f20)" style="mix-blend-mode:screen" opacity="0.9"/>
<rect x="62.80" y="491.40" width="39.80" height="39.60" fill="#030303"/>
<circle cx="82.90" cy="511.40" r="18.00" fill="url(#g21)" filter="url(#f21)"/>
<circle cx="86.00" cy="506.80" r="0.75" fill="rgb(55,210,105)" opacity="0.8"/>
<circle cx="91.40" cy="516.60" r="0.65" fill="rgb(55,210,105)" opacity="0.8"/>
<circle cx="79.60" cy="524.00" r="1.15" fill="rgb(55,210,105)" opacity="0.8"/>
<rect x="104.20" y="491.40" width="39.80" height="39.60" fill="#030303"/>
<circle cx="124.30" cy="511.40" r="18.00" fill="url(#g22)" filter="url(#f22)"/>
<rect x="145.60" y="491.40" width="39.80" height="39.60" fill="#030303"/>
<circle cx="165.70" cy="511.40" r="18.00" fill="url(#g23)" filter="url(#f23)"/>
<circle cx="165.70" cy="511.40" r="18.00" fill="url(#g24)" filter="url(#f24)" style="mix-blend-mode:screen" opacity="0.9"/>
<circle cx="168.80" cy="506.80" r="0.75" fill="rgb(55,210,105)" opacity="0.8"/>
<circle cx="174.20" cy="516.60" r="0.65" fill="rgb(55,210,105)" opacity="0.8"/>
<circle cx="162.40" cy="524.00" r="1.15" fill="rgb(55,210,105)" opacity="0.8"/>
<rect x="187.8" y="449.70" width="16.6" height="81.50" fill="#dadada" stroke="#707070" stroke-width="1"/>
<text transform="translate(191.7 472.70) rotate(90) scale(0.82 1)" textLength="51.22" lengthAdjust="spacing" style="font-size:8.8px;fill:#111;stroke-width:0.28px">NHA - Ts</text>
<text class="rl" x="8.50" y="472.30">DMSO</text>
<text class="rl" x="8.50" y="516.90">Wortmannin</text>
<text class="rl" x="68.3" y="266.0">pAKT</text>
<text class="rl" x="105.6" y="266.0">Cell Tag</text>
<text class="rl" x="150.8" y="266.0">Merge</text>
<text class="ser" x="105.2" y="544.6" text-anchor="middle">(B)</text>
<line x1="269.30" y1="370.35" x2="333.00" y2="370.35" stroke="#111" stroke-width="1.3" stroke-dasharray="4.2 4.2"/>
<path d="M285.80 331.10V361.40M285.80 384.40V391.80M273.30 331.10H298.70M273.30 391.80H298.70" stroke="#939393" stroke-width="0.9" fill="none"/>
<rect x="274.80" y="361.40" width="21.90" height="23.00" fill="rgb(128,128,128)" fill-opacity="0.92" stroke="#5a5a5a" stroke-width="0.8"/>
<line x1="274.80" y1="373.20" x2="296.70" y2="373.20" stroke="#4a4a4a" stroke-width="1.2"/>
<path d="M314.60 397.10V400.30M314.60 408.80V416.50M302.00 397.10H328.10M302.00 416.50H328.10" stroke="#666" stroke-width="0.9" fill="none"/>
<rect x="303.70" y="400.30" width="22.40" height="8.50" fill="rgb(245,146,58)" fill-opacity="0.92" stroke="#b8651d" stroke-width="0.8"/>
<line x1="303.70" y1="402.60" x2="326.10" y2="402.60" stroke="#7a4010" stroke-width="1.2"/>
<circle cx="289.80" cy="331.10" r="1.3" fill="none" stroke="#6e6e6e" stroke-opacity="0.8" stroke-width="0.7"/>
<circle cx="283.80" cy="356.50" r="1.3" fill="none" stroke="#6e6e6e" stroke-opacity="0.8" stroke-width="0.7"/>
<circle cx="276.50" cy="361.80" r="1.3" fill="none" stroke="#6e6e6e" stroke-opacity="0.8" stroke-width="0.7"/>
<circle cx="278.50" cy="364.60" r="1.3" fill="none" stroke="#6e6e6e" stroke-opacity="0.8" stroke-width="0.7"/>
<circle cx="285.80" cy="373.20" r="1.3" fill="none" stroke="#6e6e6e" stroke-opacity="0.8" stroke-width="0.7"/>
<circle cx="288.00" cy="380.90" r="1.3" fill="none" stroke="#6e6e6e" stroke-opacity="0.8" stroke-width="0.7"/>
<circle cx="281.00" cy="384.60" r="1.3" fill="none" stroke="#6e6e6e" stroke-opacity="0.8" stroke-width="0.7"/>
<circle cx="293.00" cy="387.60" r="1.3" fill="none" stroke="#6e6e6e" stroke-opacity="0.8" stroke-width="0.7"/>
<circle cx="295.50" cy="391.80" r="1.3" fill="none" stroke="#6e6e6e" stroke-opacity="0.8" stroke-width="0.7"/>
<circle cx="305.20" cy="385.40" r="1.3" fill="none" stroke="#d9843f" stroke-opacity="0.85" stroke-width="0.7"/>
<circle cx="312.30" cy="397.10" r="1.3" fill="none" stroke="#d9843f" stroke-opacity="0.85" stroke-width="0.7"/>
<circle cx="318.00" cy="400.50" r="1.3" fill="none" stroke="#d9843f" stroke-opacity="0.85" stroke-width="0.7"/>
<circle cx="321.00" cy="400.00" r="1.3" fill="none" stroke="#d9843f" stroke-opacity="0.85" stroke-width="0.7"/>
<circle cx="314.50" cy="403.00" r="1.3" fill="none" stroke="#d9843f" stroke-opacity="0.85" stroke-width="0.7"/>
<circle cx="324.00" cy="408.50" r="1.3" fill="none" stroke="#d9843f" stroke-opacity="0.85" stroke-width="0.7"/>
<circle cx="309.50" cy="412.00" r="1.3" fill="none" stroke="#d9843f" stroke-opacity="0.85" stroke-width="0.7"/>
<circle cx="307.50" cy="416.50" r="1.3" fill="none" stroke="#d9843f" stroke-opacity="0.85" stroke-width="0.7"/>
<circle cx="314.60" cy="385.40" r="2.2" fill="#1c1c1c"/>
<line x1="286.50" y1="325.30" x2="313.70" y2="325.30" stroke="#000" stroke-width="1.25"/>
<text x="300.20" y="324.60" text-anchor="middle" style="font-size:11.5px;font-weight:bold;fill:#111;stroke:#111;stroke-width:0.4px;stroke-linejoin:round">*</text>
<path class="ax" style="stroke-width:0.95" d="M268.60 311.60V444.50H333.00"/>
<line x1="265.90" y1="334.20" x2="268.80" y2="334.20" stroke="#111" stroke-width="1"/>
<text class="tk" x="262.00" y="336.80" text-anchor="end" style="font-size:7.3px">200</text>
<line x1="265.90" y1="370.35" x2="268.80" y2="370.35" stroke="#111" stroke-width="1"/>
<text class="tk" x="262.00" y="372.95" text-anchor="end" style="font-size:7.3px">100</text>
<line x1="265.90" y1="406.50" x2="268.80" y2="406.50" stroke="#111" stroke-width="1"/>
<text class="tk" x="262.00" y="409.10" text-anchor="end" style="font-size:7.3px">0</text>
<line x1="265.90" y1="442.65" x2="268.80" y2="442.65" stroke="#111" stroke-width="1"/>
<text class="tk" x="262.00" y="445.25" text-anchor="end" style="font-size:7.3px">-100</text>
<line x1="285.80" y1="444.50" x2="285.80" y2="447.30" stroke="#111" stroke-width="1"/>
<line x1="314.60" y1="444.50" x2="314.60" y2="447.30" stroke="#111" stroke-width="1"/>
<rect x="268.80" y="294.20" width="64.20" height="17.40" fill="#d9d9d9" stroke="#333" stroke-width="0.8"/>
<text class="st" x="300.30" y="305.90" text-anchor="middle" style="font-size:7.8px">NHAs</text>
<text transform="translate(277.70 455.10) rotate(29.5)" style="font-size:7.6px;fill:#222">DMSO</text>
<text transform="translate(298.80 451.40) rotate(29.5)" style="font-size:7.6px;fill:#222">Wortmannin</text>
<line x1="355.40" y1="370.35" x2="419.00" y2="370.35" stroke="#111" stroke-width="1.3" stroke-dasharray="4.2 4.2"/>
<path d="M371.90 361.40V367.70M371.90 373.60V378.60M359.40 361.40H385.30M359.40 378.60H385.30" stroke="#939393" stroke-width="0.9" fill="none"/>
<rect x="361.20" y="367.70" width="22.40" height="5.90" fill="rgb(128,128,128)" fill-opacity="0.92" stroke="#5a5a5a" stroke-width="0.8"/>
<line x1="361.20" y1="370.70" x2="383.60" y2="370.70" stroke="#4a4a4a" stroke-width="1.2"/>
<path d="M400.80 388.40V388.90M400.80 393.40V397.30M388.00 388.40H414.00M388.00 397.30H414.00" stroke="#666" stroke-width="0.9" fill="none"/>
<rect x="389.80" y="388.90" width="22.40" height="4.50" fill="rgb(245,146,58)" fill-opacity="0.92" stroke="#b8651d" stroke-width="0.8"/>
<line x1="389.80" y1="391.40" x2="412.20" y2="391.40" stroke="#7a4010" stroke-width="1.2"/>
<circle cx="377.00" cy="361.40" r="1.3" fill="none" stroke="#6e6e6e" stroke-opacity="0.8" stroke-width="0.7"/>
<circle cx="370.00" cy="364.00" r="1.3" fill="none" stroke="#6e6e6e" stroke-opacity="0.8" stroke-width="0.7"/>
<circle cx="366.00" cy="368.50" r="1.3" fill="none" stroke="#6e6e6e" stroke-opacity="0.8" stroke-width="0.7"/>
<circle cx="373.50" cy="370.50" r="1.3" fill="none" stroke="#6e6e6e" stroke-opacity="0.8" stroke-width="0.7"/>
<circle cx="378.00" cy="372.50" r="1.3" fill="none" stroke="#6e6e6e" stroke-opacity="0.8" stroke-width="0.7"/>
<circle cx="369.00" cy="374.00" r="1.3" fill="none" stroke="#6e6e6e" stroke-opacity="0.8" stroke-width="0.7"/>
<circle cx="375.00" cy="377.00" r="1.3" fill="none" stroke="#6e6e6e" stroke-opacity="0.8" stroke-width="0.7"/>
<circle cx="381.50" cy="378.60" r="1.3" fill="none" stroke="#6e6e6e" stroke-opacity="0.8" stroke-width="0.7"/>
<circle cx="393.50" cy="376.10" r="1.3" fill="none" stroke="#d9843f" stroke-opacity="0.85" stroke-width="0.7"/>
<circle cx="391.50" cy="380.90" r="1.3" fill="none" stroke="#d9843f" stroke-opacity="0.85" stroke-width="0.7"/>
<circle cx="398.50" cy="388.50" r="1.3" fill="none" stroke="#d9843f" stroke-opacity="0.85" stroke-width="0.7"/>
<circle cx="403.00" cy="390.00" r="1.3" fill="none" stroke="#d9843f" stroke-opacity="0.85" stroke-width="0.7"/>
<circle cx="395.00" cy="391.50" r="1.3" fill="none" stroke="#d9843f" stroke-opacity="0.85" stroke-width="0.7"/>
<circle cx="407.00" cy="392.50" r="1.3" fill="none" stroke="#d9843f" stroke-opacity="0.85" stroke-width="0.7"/>
<circle cx="400.00" cy="393.50" r="1.3" fill="none" stroke="#d9843f" stroke-opacity="0.85" stroke-width="0.7"/>
<circle cx="411.00" cy="397.10" r="1.3" fill="none" stroke="#d9843f" stroke-opacity="0.85" stroke-width="0.7"/>
<circle cx="403.20" cy="401.10" r="1.3" fill="none" stroke="#d9843f" stroke-opacity="0.85" stroke-width="0.7"/>
<circle cx="400.80" cy="376.10" r="2.2" fill="#1c1c1c"/>
<circle cx="400.80" cy="380.90" r="2.2" fill="#1c1c1c"/>
<circle cx="400.80" cy="401.10" r="2.2" fill="#1c1c1c"/>
<line x1="372.90" y1="353.70" x2="399.80" y2="353.70" stroke="#000" stroke-width="1.25"/>
<text x="386.30" y="353.00" text-anchor="middle" style="font-size:11.5px;font-weight:bold;fill:#111;stroke:#111;stroke-width:0.4px;stroke-linejoin:round">*</text>
<path class="ax" style="stroke-width:0.95" d="M354.70 311.60V444.50H419.00"/>
<line x1="352.00" y1="334.20" x2="354.90" y2="334.20" stroke="#111" stroke-width="1"/>
<line x1="352.00" y1="370.35" x2="354.90" y2="370.35" stroke="#111" stroke-width="1"/>
<line x1="352.00" y1="406.50" x2="354.90" y2="406.50" stroke="#111" stroke-width="1"/>
<line x1="352.00" y1="442.65" x2="354.90" y2="442.65" stroke="#111" stroke-width="1"/>
<line x1="371.90" y1="444.50" x2="371.90" y2="447.30" stroke="#111" stroke-width="1"/>
<line x1="400.80" y1="444.50" x2="400.80" y2="447.30" stroke="#111" stroke-width="1"/>
<rect x="354.90" y="294.20" width="64.10" height="17.40" fill="#d9d9d9" stroke="#333" stroke-width="0.8"/>
<text class="st" x="386.35" y="305.90" text-anchor="middle" style="font-size:7.8px">SVGAs</text>
<text transform="translate(363.80 455.10) rotate(29.5)" style="font-size:7.6px;fill:#222">DMSO</text>
<text transform="translate(385.00 451.40) rotate(29.5)" style="font-size:7.6px;fill:#222">Wortmannin</text>
<line x1="441.50" y1="370.35" x2="504.30" y2="370.35" stroke="#111" stroke-width="1.3" stroke-dasharray="4.2 4.2"/>
<path d="M458.50 350.20V358.50M458.50 377.40V383.10M445.80 350.20H471.40M445.80 383.10H471.40" stroke="#939393" stroke-width="0.9" fill="none"/>
<rect x="447.30" y="358.50" width="21.90" height="18.90" fill="rgb(128,128,128)" fill-opacity="0.92" stroke="#5a5a5a" stroke-width="0.8"/>
<line x1="447.30" y1="374.40" x2="469.20" y2="374.40" stroke="#4a4a4a" stroke-width="1.2"/>
<path d="M487.10 377.90V395.30M487.10 429.00V437.70M473.70 377.90H500.00M473.70 437.70H500.00" stroke="#939393" stroke-width="0.9" fill="none"/>
<rect x="476.10" y="395.30" width="22.00" height="33.70" fill="rgb(250,150,60)" fill-opacity="0.92" stroke="#b8651d" stroke-width="0.8"/>
<line x1="476.10" y1="415.80" x2="498.10" y2="415.80" stroke="#5a3010" stroke-width="1.2"/>
<circle cx="463.00" cy="350.20" r="1.3" fill="none" stroke="#6e6e6e" stroke-opacity="0.8" stroke-width="0.7"/>
<circle cx="455.30" cy="354.60" r="1.3" fill="none" stroke="#6e6e6e" stroke-opacity="0.8" stroke-width="0.7"/>
<circle cx="450.00" cy="360.00" r="1.3" fill="none" stroke="#6e6e6e" stroke-opacity="0.8" stroke-width="0.7"/>
<circle cx="461.00" cy="368.00" r="1.3" fill="none" stroke="#6e6e6e" stroke-opacity="0.8" stroke-width="0.7"/>
<circle cx="452.00" cy="374.50" r="1.3" fill="none" stroke="#6e6e6e" stroke-opacity="0.8" stroke-width="0.7"/>
<circle cx="460.00" cy="376.00" r="1.3" fill="none" stroke="#6e6e6e" stroke-opacity="0.8" stroke-width="0.7"/>
<circle cx="466.00" cy="377.50" r="1.3" fill="none" stroke="#6e6e6e" stroke-opacity="0.8" stroke-width="0.7"/>
<circle cx="458.50" cy="381.50" r="1.3" fill="none" stroke="#6e6e6e" stroke-opacity="0.8" stroke-width="0.7"/>
<circle cx="468.00" cy="383.10" r="1.3" fill="none" stroke="#6e6e6e" stroke-opacity="0.8" stroke-width="0.7"/>
<circle cx="479.90" cy="377.90" r="1.3" fill="none" stroke="#d9843f" stroke-opacity="0.85" stroke-width="0.7"/>
<circle cx="477.60" cy="387.10" r="1.3" fill="none" stroke="#d9843f" stroke-opacity="0.85" stroke-width="0.7"/>
<circle cx="482.40" cy="395.30" r="1.3" fill="none" stroke="#d9843f" stroke-opacity="0.85" stroke-width="0.7"/>
<circle cx="485.10" cy="416.50" r="1.3" fill="none" stroke="#d9843f" stroke-opacity="0.85" stroke-width="0.7"/>
<circle cx="488.60" cy="415.30" r="1.3" fill="none" stroke="#d9843f" stroke-opacity="0.85" stroke-width="0.7"/>
<circle cx="491.80" cy="429.00" r="1.3" fill="none" stroke="#d9843f" stroke-opacity="0.85" stroke-width="0.7"/>
<circle cx="494.60" cy="436.40" r="1.3" fill="none" stroke="#d9843f" stroke-opacity="0.85" stroke-width="0.7"/>
<circle cx="496.80" cy="437.70" r="1.3" fill="none" stroke="#d9843f" stroke-opacity="0.85" stroke-width="0.7"/>
<line x1="459.50" y1="341.20" x2="486.30" y2="341.20" stroke="#000" stroke-width="1.25"/>
<text x="472.70" y="340.50" text-anchor="middle" style="font-size:11.5px;font-weight:bold;fill:#111;stroke:#111;stroke-width:0.4px;stroke-linejoin:round">*</text>
<path class="ax" style="stroke-width:0.95" d="M440.80 311.60V444.50H504.30"/>
<line x1="438.10" y1="334.20" x2="441.00" y2="334.20" stroke="#111" stroke-width="1"/>
<line x1="438.10" y1="370.35" x2="441.00" y2="370.35" stroke="#111" stroke-width="1"/>
<line x1="438.10" y1="406.50" x2="441.00" y2="406.50" stroke="#111" stroke-width="1"/>
<line x1="438.10" y1="442.65" x2="441.00" y2="442.65" stroke="#111" stroke-width="1"/>
<line x1="458.50" y1="444.50" x2="458.50" y2="447.30" stroke="#111" stroke-width="1"/>
<line x1="487.10" y1="444.50" x2="487.10" y2="447.30" stroke="#111" stroke-width="1"/>
<rect x="441.00" y="294.20" width="63.30" height="17.40" fill="#d9d9d9" stroke="#333" stroke-width="0.8"/>
<text class="st" x="472.05" y="305.90" text-anchor="middle" style="font-size:7.8px">NHA-Ts</text>
<text transform="translate(450.40 455.10) rotate(29.5)" style="font-size:7.6px;fill:#222">DMSO</text>
<text transform="translate(471.30 451.40) rotate(29.5)" style="font-size:7.6px;fill:#222">Wortmannin</text>
<text transform="translate(242.9 378.4) rotate(-90)" text-anchor="middle" style="font-size:7.7px;fill:#222">% pAKT knockdown</text>
<text x="386.7" y="486.8" text-anchor="middle" style="font-size:7.6px;fill:#222">Treatment (2.5 µM)</text>
<text class="ser" x="371.3" y="544.8" text-anchor="middle" style="font-weight:normal;font-size:11.8px">(C)</text>
</svg></body></html>
